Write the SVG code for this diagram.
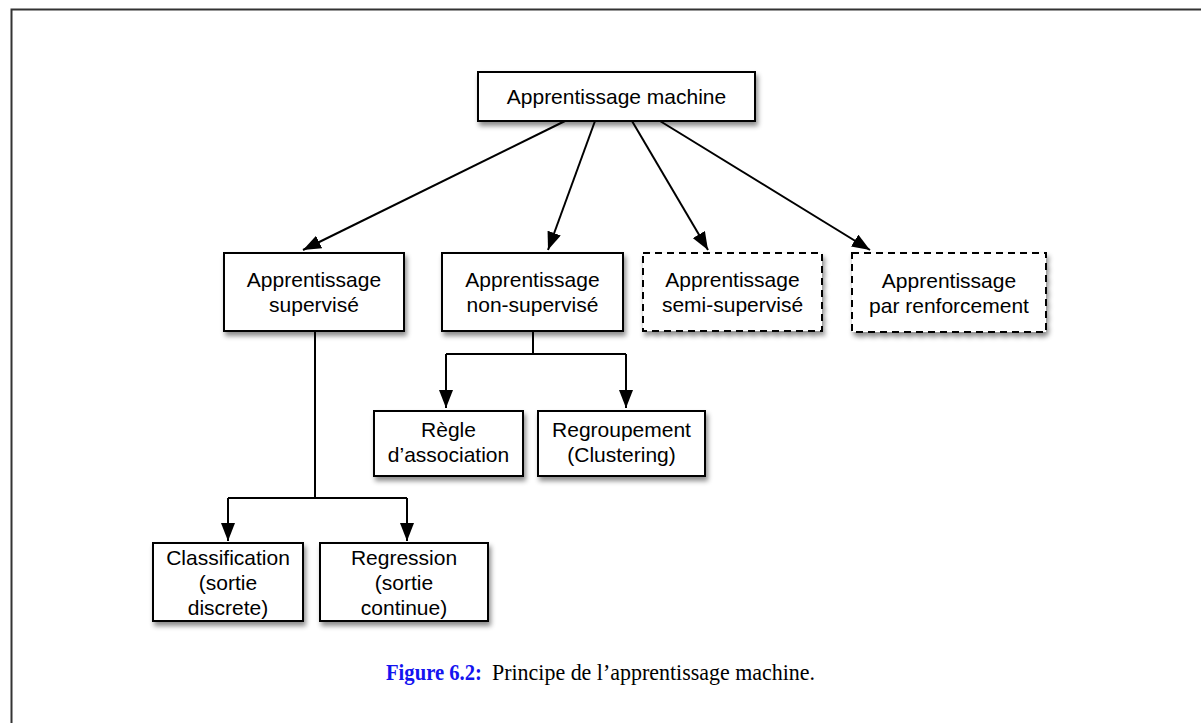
<svg xmlns="http://www.w3.org/2000/svg" width="1201" height="723" viewBox="0 0 1201 723">
<defs>
<filter id="sh" x="-10%" y="-10%" width="130%" height="140%">
<feDropShadow dx="2" dy="4" stdDeviation="2.5" flood-color="#000" flood-opacity="0.45"/>
</filter>
<marker id="ah" viewBox="0 0 18 14" refX="18" refY="7" markerWidth="18" markerHeight="14" markerUnits="userSpaceOnUse" orient="auto">
<path d="M0,0 L18,7 L0,14 Z" fill="#000"/>
</marker>
<style>
.box{fill:#fff;stroke:#000;stroke-width:2;filter:url(#sh)}
.dash{stroke-dasharray:7,5}
.t{font-family:"Liberation Sans",Arial,sans-serif;font-size:21px;fill:#000;text-anchor:middle}
.c{fill:none;stroke:#000;stroke-width:2}
.cap{font-family:"Liberation Serif","Times New Roman",serif;font-size:24px;fill:#000}
.fig{fill:#1414f0;font-weight:bold}
</style>
</defs>
<rect x="0" y="0" width="1201" height="723" fill="#fff"/>
<path d="M11.5,740 L11.5,9.5 L1220,9.5" fill="none" stroke="#333" stroke-width="2"/>

<g id="connectors">
<line class="c" x1="565" y1="121" x2="303" y2="250" marker-end="url(#ah)"/>
<line class="c" x1="595" y1="121" x2="548" y2="250" marker-end="url(#ah)"/>
<line class="c" x1="632" y1="121" x2="708" y2="250" marker-end="url(#ah)"/>
<line class="c" x1="660" y1="121" x2="870" y2="250" marker-end="url(#ah)"/>
<polyline class="c" points="315,331 315,498"/>
<polyline class="c" points="228,498 407,498"/>
<line class="c" x1="228" y1="498" x2="228" y2="541" marker-end="url(#ah)"/>
<line class="c" x1="407" y1="498" x2="407" y2="541" marker-end="url(#ah)"/>
<polyline class="c" points="533,331 533,354"/>
<polyline class="c" points="446,354 626,354"/>
<line class="c" x1="446" y1="354" x2="446" y2="408" marker-end="url(#ah)"/>
<line class="c" x1="626" y1="354" x2="626" y2="408" marker-end="url(#ah)"/>
</g>

<g id="n-machine">
<rect class="box" x="478" y="72" width="277" height="49"/>
<text class="t" x="616.5" y="104">Apprentissage machine</text>
</g>
<g id="n-supervise">
<rect class="box" x="224" y="253" width="180" height="78"/>
<text class="t" x="314" y="287">Apprentissage</text>
<text class="t" x="314" y="312">supervisé</text>
</g>
<g id="n-nonsupervise">
<rect class="box" x="442" y="253" width="181" height="78"/>
<text class="t" x="532.5" y="287">Apprentissage</text>
<text class="t" x="532.5" y="312">non-supervisé</text>
</g>
<g id="n-semi">
<rect class="box dash" x="643" y="253" width="179" height="78"/>
<text class="t" x="732.5" y="287">Apprentissage</text>
<text class="t" x="732.5" y="312">semi-supervisé</text>
</g>
<g id="n-renforcement">
<rect class="box dash" x="852" y="253" width="194" height="79"/>
<text class="t" x="949" y="288">Apprentissage</text>
<text class="t" x="949" y="313">par renforcement</text>
</g>
<g id="n-regle">
<rect class="box" x="374" y="411" width="149" height="65"/>
<text class="t" x="448.5" y="437">Règle</text>
<text class="t" x="448.5" y="462">d’association</text>
</g>
<g id="n-regroupement">
<rect class="box" x="538" y="411" width="167" height="65"/>
<text class="t" x="621.5" y="437">Regroupement</text>
<text class="t" x="621.5" y="462">(Clustering)</text>
</g>
<g id="n-classification">
<rect class="box" x="153" y="543" width="150" height="78"/>
<text class="t" x="228" y="565">Classification</text>
<text class="t" x="228" y="590">(sortie</text>
<text class="t" x="228" y="615">discrete)</text>
</g>
<g id="n-regression">
<rect class="box" x="320" y="543" width="168" height="78"/>
<text class="t" x="404" y="565">Regression</text>
<text class="t" x="404" y="590">(sortie</text>
<text class="t" x="404" y="615">continue)</text>
</g>

<g id="caption">
<text class="cap fig" x="386" y="680" textLength="96" lengthAdjust="spacingAndGlyphs">Figure 6.2:</text>
<text class="cap" x="492" y="680" textLength="323" lengthAdjust="spacingAndGlyphs">Principe de l’apprentissage machine.</text>
</g>
</svg>
